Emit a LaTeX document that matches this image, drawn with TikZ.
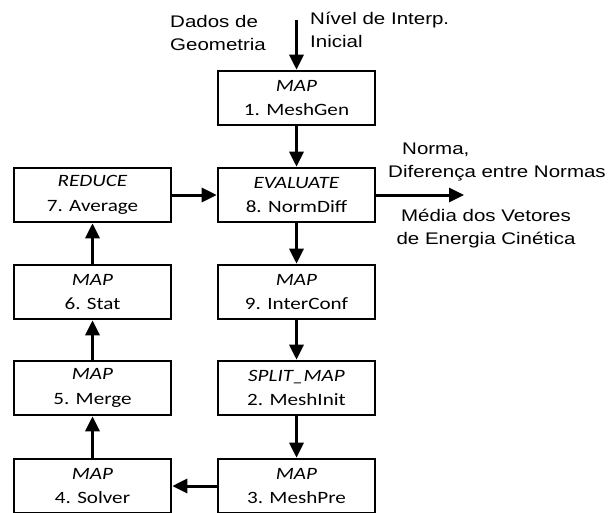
\documentclass[tikz,border=0pt]{standalone}
\usepackage{fontspec}
\setmainfont[FakeStretch=1.22]{Liberation Sans}
\newfontfamily\boxfont[FakeStretch=1.22]{Carlito}
\usetikzlibrary{arrows.meta}
\begin{document}
\begin{tikzpicture}[x=1pt,y=-1pt,
 proc/.style={draw, line width=2.6pt, minimum width=157pt, minimum height=54pt, inner sep=0pt, align=center, font=\boxfont\fontsize{17.3}{24.5}\selectfont},
 flow/.style={line width=3pt, -{Triangle[width=14pt,length=15pt]}},
 lbl/.style={font=\fontsize{16.8}{23}\selectfont, inner sep=0pt}]
\useasboundingbox (0,0) rectangle (612,513);
\node[proc] (n1) at (296.5,98) {\textit{MAP}\\1. MeshGen};
\node[proc] (n8) at (296.5,195) {\textit{EVALUATE}\\8. NormDiff};
\node[proc] (n9) at (296.5,292) {\textit{MAP}\\9. InterConf};
\node[proc] (n2) at (296.5,388) {\textit{SPLIT\_MAP}\\2. MeshInit};
\node[proc] (n3) at (296.5,486) {\textit{MAP}\\3. MeshPre};
\node[proc] (n7) at (92.5,195) {\textit{REDUCE}\\7. Average};
\node[proc] (n6) at (92.5,292) {\textit{MAP}\\6. Stat};
\node[proc] (n5) at (92.5,388) {\textit{MAP}\\5. Merge};
\node[proc] (n4) at (92.5,486) {\textit{MAP}\\4. Solver};
\coordinate (in) at (296.5,20);
\coordinate (out) at (464,195);
\node[lbl, align=left, anchor=north west] (ldados) at (170,15) {Dados de\\Geometria};
\node[lbl, align=left, anchor=north west] (lnivel) at (310,12) {Nível de Interp.\\Inicial};
\node[lbl, align=left, anchor=north west] (lnorma) at (388,143) {\hspace*{14pt}Norma,\\Diferença entre Normas};
\node[lbl, align=center, anchor=north] (lmedia) at (486,209) {Média dos Vetores\\de Energia Cinética};
\draw[flow] (in) -- (n1);
\draw[flow] (n1) -- (n8);
\draw[flow] (n8) -- (n9);
\draw[flow] (n9) -- (n2);
\draw[flow] (n2) -- (n3);
\draw[flow] (n3) -- (n4);
\draw[flow] (n4) -- (n5);
\draw[flow] (n5) -- (n6);
\draw[flow] (n6) -- (n7);
\draw[flow] (n7) -- (n8);
\draw[flow] (n8.east) -- (out);
\end{tikzpicture}
\end{document}
